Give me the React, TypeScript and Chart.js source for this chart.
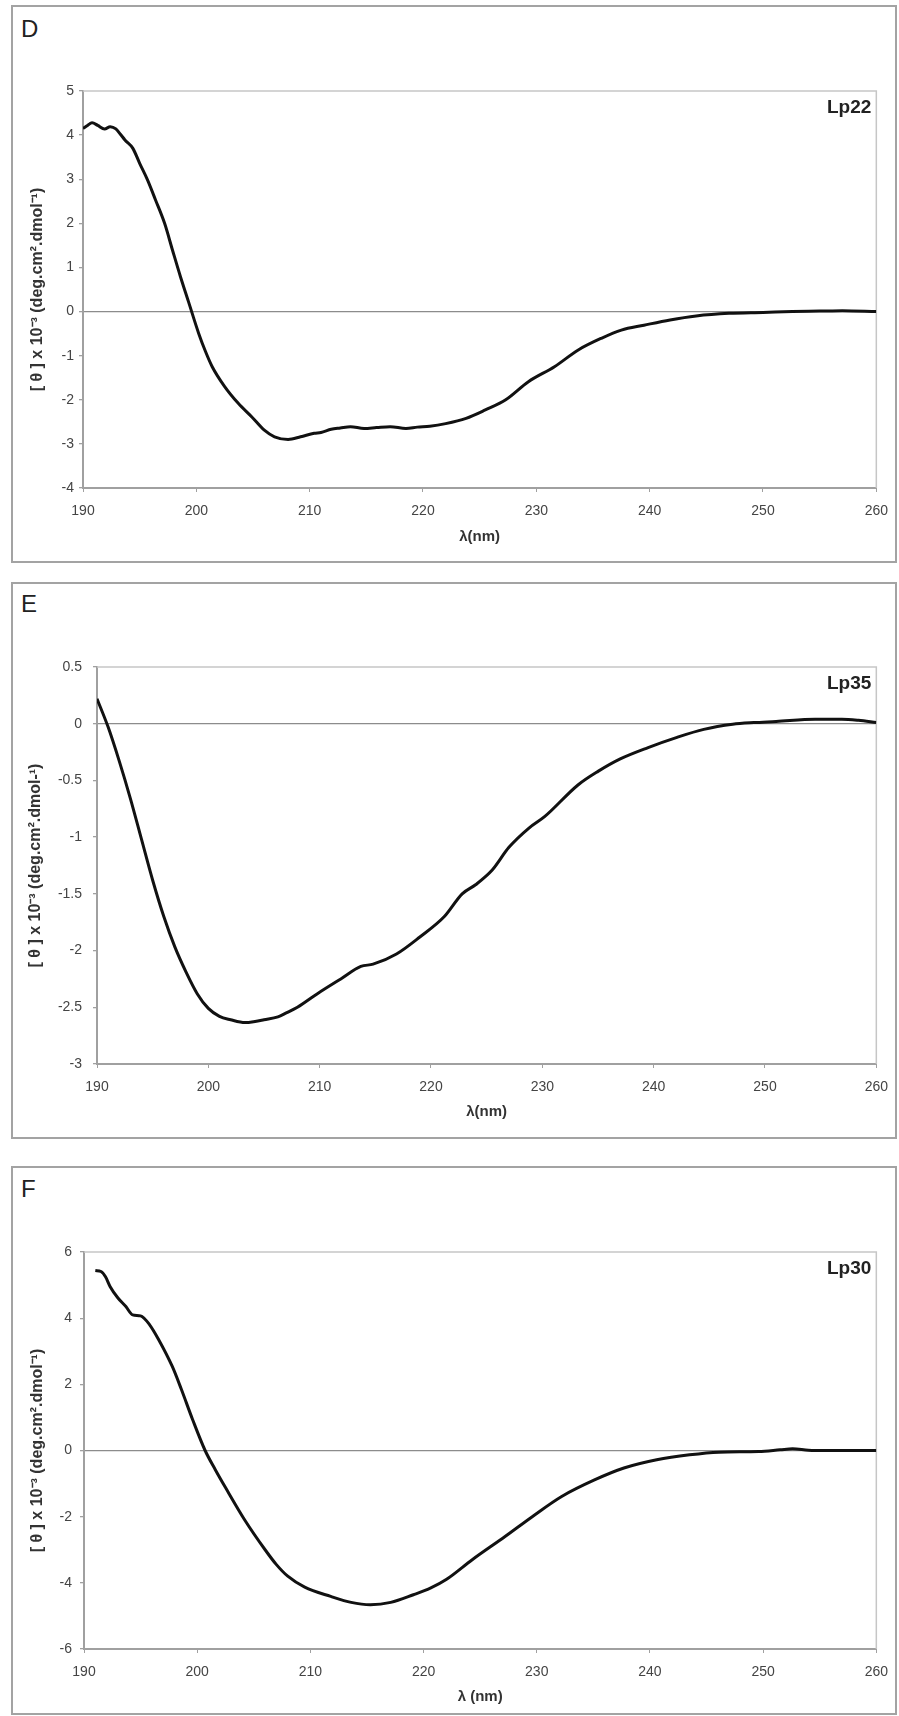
import React, { useEffect, useRef } from "react";
import Chart from "chart.js/auto";

// ---------- data ----------
const WAVELENGTH_D = [190.0, 190.4, 190.8, 191.3, 191.9, 192.4, 192.9, 193.3, 193.7, 194.4, 195.0, 195.7, 196.4, 197.2, 197.9, 198.6, 199.3, 200.2, 200.8, 201.4, 202.5, 203.7, 204.9, 206.0, 206.9, 208.1, 209.2, 210.4, 211.0, 211.9, 212.7, 213.6, 214.8, 215.9, 217.1, 218.5, 219.5, 220.6, 222.0, 223.8, 225.5, 227.3, 229.3, 231.6, 233.7, 235.7, 237.5, 239.5, 241.8, 244.1, 247.0, 250.0, 252.6, 255.0, 257.0, 260.0];
const THETA_D = [4.15, 4.22, 4.28, 4.22, 4.14, 4.19, 4.14, 4.02, 3.89, 3.70, 3.36, 2.98, 2.53, 2.00, 1.39, 0.79, 0.23, -0.49, -0.90, -1.25, -1.70, -2.08, -2.39, -2.69, -2.84, -2.90, -2.84, -2.76, -2.74, -2.67, -2.64, -2.61, -2.65, -2.63, -2.61, -2.65, -2.62, -2.60, -2.54, -2.42, -2.23, -2.00, -1.59, -1.25, -0.87, -0.61, -0.42, -0.31, -0.19, -0.10, -0.04, -0.02, 0.00, 0.01, 0.02, 0.00];

const WAVELENGTH_E = [190.0, 191.0, 192.0, 193.0, 194.0, 195.0, 196.0, 197.0, 198.0, 199.0, 200.0, 201.0, 202.0, 203.3, 204.2, 205.0, 206.25, 207.0, 208.0, 209.8, 211.9, 213.7, 214.8, 216.9, 219.0, 221.2, 222.8, 224.0, 225.5, 227.0, 228.8, 230.2, 233.2, 235.0, 237.0, 239.5, 242.1, 244.5, 247.1, 249.0, 251.0, 254.5, 256.9, 258.4, 260.0];
const THETA_E = [0.22, -0.03, -0.33, -0.66, -1.02, -1.38, -1.70, -1.97, -2.19, -2.38, -2.51, -2.58, -2.61, -2.635, -2.625, -2.61, -2.585, -2.55, -2.50, -2.38, -2.25, -2.14, -2.12, -2.03, -1.88, -1.70, -1.50, -1.42, -1.29, -1.09, -0.92, -0.82, -0.54, -0.42, -0.31, -0.21, -0.12, -0.05, -0.005, 0.01, 0.02, 0.04, 0.04, 0.03, 0.01];

const WAVELENGTH_F = [191.0, 191.5, 191.9, 192.3, 193.0, 193.7, 194.3, 195.0, 195.8, 196.6, 197.8, 198.6, 199.6, 200.7, 201.6, 202.5, 204.2, 206.0, 207.0, 208.0, 209.5, 211.8, 213.6, 215.3, 217.1, 219.1, 220.6, 222.0, 224.3, 227.2, 229.6, 232.2, 235.1, 237.7, 240.6, 243.5, 246.1, 249.6, 251.5, 252.6, 254.0, 255.5, 260.0];
const THETA_F = [5.44, 5.41, 5.25, 4.96, 4.61, 4.35, 4.10, 4.07, 3.80, 3.35, 2.54, 1.85, 0.93, 0.00, -0.58, -1.12, -2.10, -3.00, -3.45, -3.80, -4.13, -4.41, -4.59, -4.66, -4.59, -4.36, -4.16, -3.90, -3.30, -2.60, -2.00, -1.39, -0.89, -0.53, -0.28, -0.13, -0.05, -0.03, 0.02, 0.05, 0.01, 0.00, 0.00];

const X_MIN = 190;
const X_MAX = 260;
const X_STEP = 10;

const Y_MIN_D = -4, Y_MAX_D = 5, Y_STEP_D = 1;
const Y_MIN_E = -3, Y_MAX_E = 0.5, Y_STEP_E = 0.5;
const Y_MIN_F = -6, Y_MAX_F = 6, Y_STEP_F = 2;

const PANEL_LETTERS = ["D", "E", "F"];
const SAMPLE_LABELS = ["Lp22", "Lp35", "Lp30"];
const Y_TITLES = [
  "[ θ ] x 10⁻³ (deg.cm².dmol⁻¹)",
  "[ θ ] x 10⁻³ (deg.cm².dmol-¹)",
  "[ θ ] x 10⁻³ (deg.cm².dmol⁻¹)",
];
const X_TITLES = ["λ(nm)", "λ(nm)", "λ (nm)"];

// ---------- layout / style ----------
const FONT = '"Liberation Sans", Arial, Helvetica, sans-serif';
const PAGE_W = 899;

type PanelCfg = {
  top: number;
  height: number;
  letterTop: number;
  xs: number[];
  ys: number[];
  yMin: number;
  yMax: number;
  yStep: number;
  letter: string;
  label: string;
  yTitle: string;
  xTitle: string;
  padLeft: number;
  padRight: number;
  padTop: number;
  padBottom: number;
  yAxisWidth: number;
  xAxisHeight: number;
  yTickPad: number;
};

const PANELS: PanelCfg[] = [
  {
    top: 5, height: 558, letterTop: 17,
    xs: WAVELENGTH_D, ys: THETA_D, yMin: Y_MIN_D, yMax: Y_MAX_D, yStep: Y_STEP_D,
    letter: PANEL_LETTERS[0], label: SAMPLE_LABELS[0], yTitle: Y_TITLES[0], xTitle: X_TITLES[0],
    padLeft: 28, padRight: 14, padTop: 86, padBottom: 17, yAxisWidth: 55, xAxisHeight: 58, yTickPad: 5,
  },
  {
    top: 582, height: 557, letterTop: 592,
    xs: WAVELENGTH_E, ys: THETA_E, yMin: Y_MIN_E, yMax: Y_MAX_E, yStep: Y_STEP_E,
    letter: PANEL_LETTERS[1], label: SAMPLE_LABELS[1], yTitle: Y_TITLES[1], xTitle: X_TITLES[1],
    padLeft: 26, padRight: 13, padTop: 85, padBottom: 18, yAxisWidth: 71, xAxisHeight: 57, yTickPad: 11,
  },
  {
    top: 1166, height: 549, letterTop: 1177,
    xs: WAVELENGTH_F, ys: THETA_F, yMin: Y_MIN_F, yMax: Y_MAX_F, yStep: Y_STEP_F,
    letter: PANEL_LETTERS[2], label: SAMPLE_LABELS[2], yTitle: Y_TITLES[2], xTitle: X_TITLES[2],
    padLeft: 28, padRight: 14, padTop: 86, padBottom: 9, yAxisWidth: 56, xAxisHeight: 57, yTickPad: 8,
  },
];

const fmtTick = (v: any) => String(Number(Number(v).toFixed(2)));

function CdPanel({ cfg }: { cfg: PanelCfg }) {
  const ref = useRef<HTMLCanvasElement | null>(null);

  useEffect(() => {
    if (!ref.current) return;
    const points = cfg.xs.map((x, i) => ({ x, y: cfg.ys[i] }));

    const framePlugin = {
      id: "frame",
      beforeDatasetsDraw(chart: any) {
        const { ctx, chartArea } = chart;
        ctx.save();
        ctx.strokeStyle = "#c6c6c6";
        ctx.lineWidth = 1.5;
        ctx.beginPath();
        ctx.moveTo(chartArea.left, chartArea.top);
        ctx.lineTo(chartArea.right, chartArea.top);
        ctx.lineTo(chartArea.right, chartArea.bottom);
        ctx.stroke();
        ctx.restore();
      },
    };

    const labelPlugin = {
      id: "sampleLabel",
      afterDatasetsDraw(chart: any) {
        const { ctx, chartArea } = chart;
        ctx.save();
        ctx.font = `bold 19px ${FONT}`;
        ctx.fillStyle = "#222";
        ctx.textAlign = "right";
        ctx.textBaseline = "middle";
        ctx.fillText(cfg.label, chartArea.right - 5, chartArea.top + 17);
        ctx.restore();
      },
    };

    const chart = new Chart(ref.current, {
      type: "line",
      data: {
        datasets: [
          {
            data: points,
            borderColor: "#111",
            borderWidth: 3,
            pointRadius: 0,
            fill: false,
            cubicInterpolationMode: "monotone",
          },
        ],
      },
      options: {
        animation: false,
        responsive: false,
        maintainAspectRatio: false,
        devicePixelRatio: 1,
        events: [],
        parsing: false,
        normalized: true,
        layout: {
          padding: { left: cfg.padLeft, right: cfg.padRight, top: cfg.padTop, bottom: cfg.padBottom },
        },
        plugins: {
          legend: { display: false },
          tooltip: { enabled: false },
          title: { display: false },
        },
        scales: {
          x: {
            type: "linear",
            position: "bottom",
            min: X_MIN,
            max: X_MAX,
            ticks: {
              stepSize: X_STEP,
              font: { family: FONT, size: 14 },
              color: "#444",
              padding: 11,
              maxRotation: 0,
              callback: fmtTick,
            },
            grid: { drawOnChartArea: false, tickColor: "#a0a0a0", tickLength: 4 },
            border: { display: true, color: "#a0a0a0", width: 2 },
            title: {
              display: true,
              text: cfg.xTitle,
              font: { family: FONT, size: 15, weight: "bold" },
              color: "#333",
              padding: { top: 0, bottom: 0 },
            },
            afterFit: (s: any) => {
              s.height = cfg.xAxisHeight;
            },
          },
          y: {
            type: "linear",
            position: "left",
            min: cfg.yMin,
            max: cfg.yMax,
            ticks: {
              stepSize: cfg.yStep,
              font: { family: FONT, size: 14 },
              color: "#444",
              padding: cfg.yTickPad,
              callback: fmtTick,
            },
            grid: {
              drawOnChartArea: true,
              color: (c: any) => (c.tick && Math.abs(c.tick.value) < 1e-9 ? "#8c8c8c" : "rgba(0,0,0,0)"),
              lineWidth: 1.3,
              tickColor: "#a0a0a0",
              tickLength: 4,
            },
            border: { display: true, color: "#a0a0a0", width: 2 },
            title: {
              display: true,
              text: cfg.yTitle,
              font: { family: FONT, size: 16, weight: "bold" },
              color: "#333",
              padding: { top: 0, bottom: 0 },
            },
            afterFit: (s: any) => {
              s.width = cfg.yAxisWidth;
            },
          },
        },
      } as any,
      plugins: [framePlugin, labelPlugin],
    });

    return () => chart.destroy();
  }, [cfg]);

  return (
    <>
      <div
        style={{
          position: "absolute",
          left: 11,
          top: cfg.top,
          width: 886,
          height: cfg.height,
          border: "2px solid #a3a3a3",
          boxSizing: "border-box",
        }}
      />
      <div
        style={{
          position: "absolute",
          left: 21,
          top: cfg.letterTop,
          fontFamily: FONT,
          fontSize: 24,
          lineHeight: "24px",
          color: "#222",
        }}
      >
        {cfg.letter}
      </div>
      <canvas
        ref={ref}
        width={PAGE_W}
        height={cfg.height}
        style={{
          position: "absolute",
          left: 0,
          top: cfg.top,
          width: PAGE_W,
          height: cfg.height,
          display: "block",
        }}
      />
    </>
  );
}

export default function App() {
  return (
    <div
      style={{
        position: "absolute",
        left: 0,
        top: 0,
        width: PAGE_W,
        height: 1716,
        background: "#fff",
        overflow: "hidden",
      }}
    >
      {PANELS.map((p) => (
        <CdPanel key={p.letter} cfg={p} />
      ))}
    </div>
  );
}
